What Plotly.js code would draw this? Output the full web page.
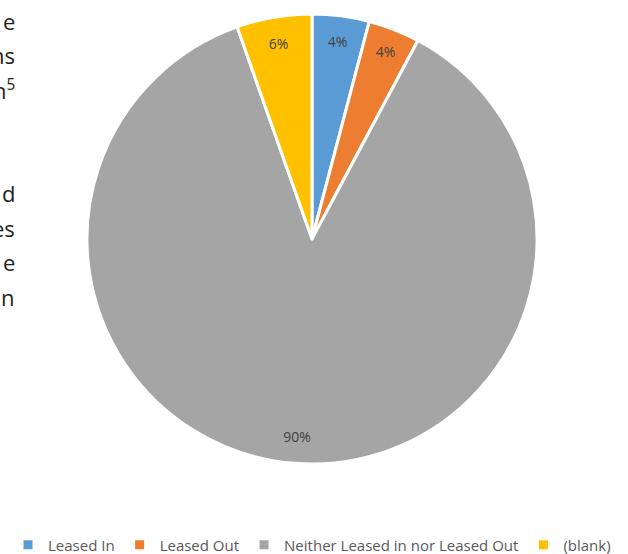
<!DOCTYPE html>
<html>
<head>
<meta charset="utf-8">
<script src="https://cdn.plot.ly/plotly-3.0.1.min.js"></script>
<style>html,body{margin:0;padding:0;background:#fff;}#chart{width:628px;height:554px;}</style>
</head>
<body>
<div id="chart"></div>
<script>
// Data
const categories = ["Leased In", "Leased Out", "Neither Leased in nor Leased Out", "(blank)"];
const shares = [4.1, 3.7, 86.8, 5.4];
const shareLabels = ["4%", "4%", "90%", "6%"];
const sliceColors = ["#5b9bd5", "#ed7d31", "#a5a5a5", "#ffc000"];
// Cropped body text visible at the left edge of the picture
const sideText = ["e", "ns", "h<sup>5</sup>", "d", "es", "e", "n"];
const sideBaselines = [28, 62.5, 97, 200.5, 235, 269.5, 304];

const W = 628, H = 554;
const M = {l: 0, r: 0, t: 14, b: 90, autoexpand: false};
const PW = W - M.l - M.r, PH = H - M.t - M.b;
const px2x = px => (px - M.l) / PW;
const py2y = py => (H - M.b - py) / PH;
const pieDomain = {x: [px2x(87), px2x(537)], y: [0, 1]};

const pieMain = {
  type: "pie",
  labels: categories,
  values: shares,
  sort: false,
  direction: "clockwise",
  rotation: 0,
  domain: pieDomain,
  marker: {colors: sliceColors, line: {color: "#ffffff", width: 3}},
  textinfo: "none",
  hoverinfo: "label+percent",
  showlegend: true
};

const pieText = {
  type: "pie",
  labels: categories,
  values: shares,
  sort: false,
  direction: "clockwise",
  rotation: 0,
  domain: pieDomain,
  hole: 0.76,
  marker: {colors: categories.map(() => "rgba(0,0,0,0)"), line: {width: 0}},
  text: shareLabels,
  textinfo: "text",
  textposition: "inside",
  insidetextorientation: "horizontal",
  insidetextfont: {family: "Open Sans, sans-serif", size: 14, color: "#404040"},
  hoverinfo: "skip",
  showlegend: false
};

const annotations = sideText.map((t, i) => ({
  xref: "paper", yref: "paper",
  x: px2x(16), y: py2y(sideBaselines[i] - 7.5),
  xanchor: "right", yanchor: "middle",
  text: t, showarrow: false, borderpad: 0,
  font: {family: "Open Sans, sans-serif", size: 22, color: "#231f20"}
}));

const layout = {
  width: W, height: H,
  margin: M,
  paper_bgcolor: "#ffffff",
  plot_bgcolor: "#ffffff",
  showlegend: true,
  legend: {
    orientation: "h",
    x: px2x(8), xanchor: "left",
    y: py2y(545), yanchor: "middle",
    font: {family: "Open Sans, sans-serif", size: 15, color: "#595959"},
    traceorder: "normal"
  },
  annotations: annotations
};

Plotly.newPlot("chart", [pieMain, pieText], layout, {displayModeBar: false, staticPlot: true});
</script>
</body>
</html>
